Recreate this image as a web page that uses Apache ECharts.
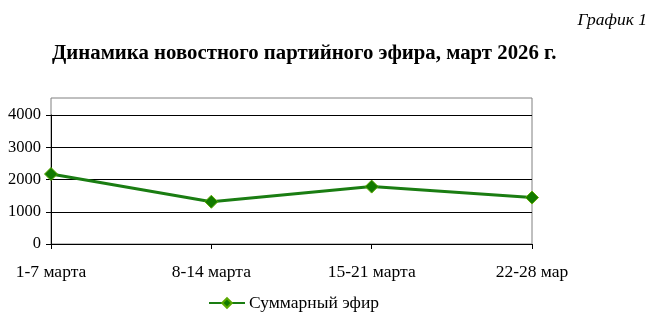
<!DOCTYPE html>
<html>
<head>
<meta charset="utf-8">
<script src="https://cdn.jsdelivr.net/npm/echarts@6/dist/echarts.min.js"></script>
<style>
html,body{margin:0;padding:0;background:#fff;}
#c{width:659px;height:319px;}
</style>
</head>
<body>
<div id="c"></div>
<script>
const categories = ['1-7 марта', '8-14 марта', '15-21 марта', '22-28 мар'];
const seriesName = 'Суммарный эфир';
const values = [2170, 1310, 1780, 1440];
const yTicks = [0, 1000, 2000, 3000, 4000];

const serif = '"Liberation Serif", "Times New Roman", serif';
const chart = echarts.init(document.getElementById('c'), null, {renderer: 'canvas'});
chart.setOption({
  animation: false,
  backgroundColor: '#fff',
  title: [
    {text: 'График 1', right: 7, top: 6,
     textStyle: {fontFamily: serif, fontStyle: 'italic', fontWeight: 'normal', fontSize: 17.5, color: '#000'}},
    {text: 'Динамика новостного партийного эфира, март 2026 г.', left: 47, top: 38,
     textStyle: {fontFamily: serif, fontWeight: 'bold', fontSize: 20.8, color: '#000'}}
  ],
  grid: [
    {left: 51, right: 127, top: 115, bottom: 75, show: false, z: 3},
    {left: 51, right: 127, top: 98, bottom: 75, show: true, borderColor: '#808080', borderWidth: 1, backgroundColor: 'transparent', z: 0}
  ],
  legend: {
    top: 289, left: 203,
    data: [seriesName],
    itemWidth: 36, itemHeight: 12, itemGap: 4,
    textStyle: {fontFamily: serif, fontSize: 17.5, color: '#000', padding: [0, 0, 0, -1]}
  },
  xAxis: [
    {type: 'category', gridIndex: 0, data: categories, boundaryGap: false,
     axisLine: {lineStyle: {color: '#000', width: 1}},
     axisTick: {show: true, length: 5, lineStyle: {color: '#000'}},
     axisLabel: {fontFamily: serif, fontSize: 17.5, color: '#000', margin: 19, interval: 0}},
    {type: 'value', gridIndex: 1, show: false}
  ],
  yAxis: [
    {type: 'value', gridIndex: 0, min: 0, max: 4000, interval: 1000,
     axisLine: {show: true, lineStyle: {color: '#000', width: 1}},
     axisTick: {show: true, length: 5, lineStyle: {color: '#000'}},
     axisLabel: {fontFamily: serif, fontSize: 16.5, color: '#000', margin: 10,
       formatter: v => yTicks.includes(v) ? String(v) : ''},
     splitLine: {show: true, lineStyle: {color: '#000', width: 1}}},
    {type: 'value', gridIndex: 1, show: false}
  ],
  series: [{
    name: seriesName,
    type: 'line',
    xAxisIndex: 0, yAxisIndex: 0,
    data: values,
    symbol: 'diamond',
    symbolSize: 13,
    lineStyle: {color: '#1a7d12', width: 3},
    itemStyle: {color: '#127a00', borderColor: '#5aa800', borderWidth: 1},
    z: 5
  }]
});
</script>
</body>
</html>
